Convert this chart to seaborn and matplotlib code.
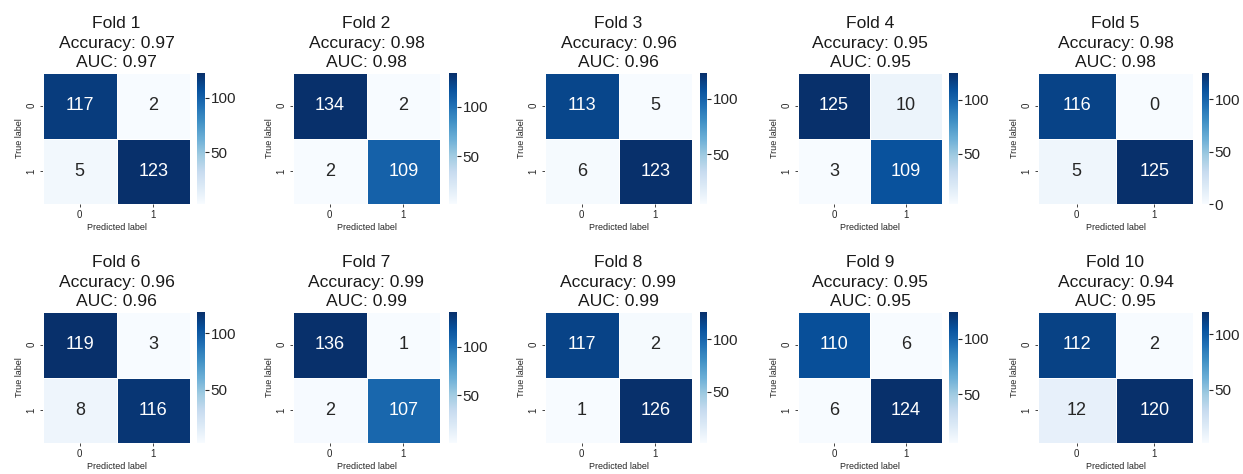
import numpy as np
import matplotlib
matplotlib.use("Agg")
import matplotlib.pyplot as plt
import seaborn as sns

sns.set_style("white")
plt.rcParams["font.family"] = ["Liberation Sans", "DejaVu Sans"]
plt.rcParams["xtick.bottom"] = True
plt.rcParams["ytick.left"] = True
plt.rcParams["ytick.right"] = False

# Confusion matrix entries per fold: [TN, FP, FN, TP]
fold_names = ["Fold 1", "Fold 2", "Fold 3", "Fold 4", "Fold 5",
              "Fold 6", "Fold 7", "Fold 8", "Fold 9", "Fold 10"]
true_neg = [117, 134, 113, 125, 116, 119, 136, 117, 110, 112]
false_pos = [2, 2, 5, 10, 0, 3, 1, 2, 6, 2]
false_neg = [5, 2, 6, 3, 5, 8, 2, 1, 6, 12]
true_pos = [123, 109, 123, 109, 125, 116, 107, 126, 124, 120]
accuracy = [0.97, 0.98, 0.96, 0.95, 0.98, 0.96, 0.99, 0.99, 0.95, 0.94]
auc = [0.97, 0.98, 0.96, 0.95, 0.98, 0.96, 0.99, 0.99, 0.95, 0.95]
class_labels = ["0", "1"]

W, H = 1243, 474
fig = plt.figure(figsize=(W / 100, H / 100), dpi=100)

# panel placement in pixels: heatmap left/right, colorbar left/right, row top/bottom
hm_x = [(43, 190), (293, 440), (545, 692), (798, 942), (1038, 1193)]
cb_x = [(197, 205), (449, 457), (700, 707), (949, 958), (1202, 1209)]
rows_y = [(73, 204), (312, 443)]


def px_axes(x0, x1, y0, y1):
    return fig.add_axes([x0 / W, 1 - y1 / H, (x1 - x0) / W, (y1 - y0) / H])


for i in range(10):
    r, c = divmod(i, 5)
    y0, y1 = rows_y[r]
    ax = px_axes(*hm_x[c], y0, y1)
    cax = px_axes(*cb_x[c], y0, y1)
    cm = np.array([[true_neg[i], false_pos[i]],
                   [false_neg[i], true_pos[i]]])
    sns.heatmap(cm, annot=True, fmt="d", cmap="Blues", ax=ax, cbar_ax=cax,
                xticklabels=class_labels, yticklabels=class_labels,
                linewidths=0.5, linecolor="white",
                annot_kws={"fontsize": 13})
    ax.set_title(f"{fold_names[i]}\nAccuracy: {accuracy[i]:.2f}\nAUC: {auc[i]:.2f}",
                 fontsize=12.6, color="#1a1a1a", pad=4, linespacing=1.38)
    ax.set_xlabel("Predicted label", fontsize=6.5, color=".15", labelpad=2)
    ax.set_ylabel("True label", fontsize=6.5, color=".15", labelpad=2)
    ax.tick_params(axis="both", labelsize=7, length=2.5, width=0.6,
                   colors=".15", pad=2)
    plt.setp(ax.get_yticklabels(), rotation=90, va="center")
    cax.tick_params(labelsize=11, length=3, width=0.8, colors=".15", pad=1)

fig.savefig("out.png", dpi=100, facecolor="white")
